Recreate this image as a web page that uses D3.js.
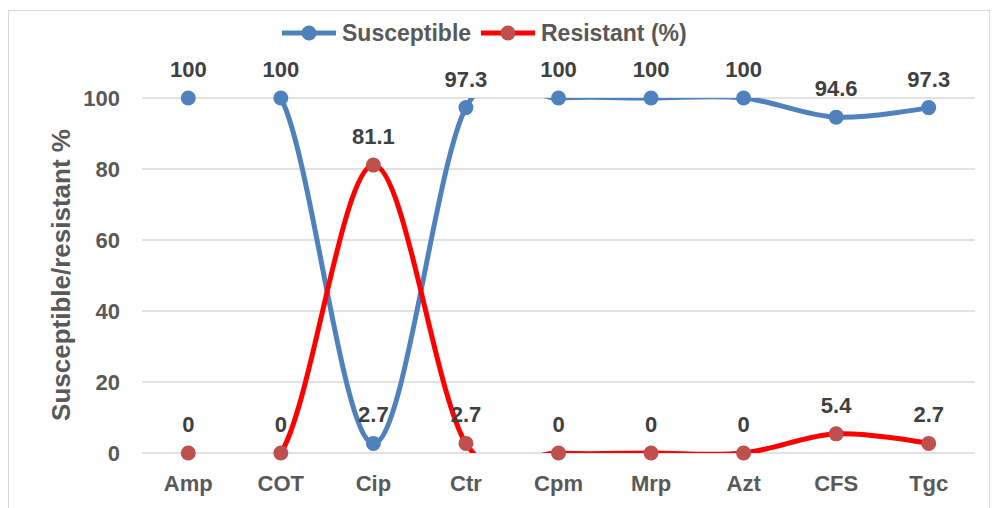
<!DOCTYPE html>
<html>
<head>
<meta charset="utf-8">
<script src="https://cdn.jsdelivr.net/npm/d3@7"></script>
<style>
  body { margin: 0; background: #fff; }
  svg { font-family: Arial, "Liberation Sans", sans-serif; font-weight: bold; }
</style>
</head>
<body>
<svg id="chart" width="993" height="508"></svg>
<script>
// data
var categories = ["Amp", "COT", "Cip", "Ctr", "Cpm", "Mrp", "Azt", "CFS", "Tgc"];
var susceptible = [100, 100, 2.7, 97.3, 100, 100, 100, 94.6, 97.3];
var resistant = [0, 0, 81.1, 2.7, 0, 0, 0, 5.4, 2.7];
var yTicks = [0, 20, 40, 60, 80, 100];

var svg = d3.select("#chart");

var plotLeft = 142, plotRight = 975, plotTop = 98, plotBottom = 453;

// outer frame
svg.append("rect")
   .attr("x", 8.5).attr("y", 10.5)
   .attr("width", 981).attr("height", 500)
   .attr("fill", "none")
   .attr("stroke", "#d9d9d9");

var xScale = d3.scaleBand()
        .domain(categories)
        .range([plotLeft, plotRight]);

var yScale = d3.scaleLinear()
        .domain([0, 100])
        .range([plotBottom, plotTop]);

var cx = function(i) { return xScale(categories[i]) + xScale.bandwidth() / 2; };

// gridlines
svg.append("g")
   .selectAll("line")
   .data(yTicks)
   .enter().append("line")
     .attr("x1", plotLeft).attr("x2", plotRight)
     .attr("y1", function(d) { return yScale(d); })
     .attr("y2", function(d) { return yScale(d); })
     .attr("stroke", "#d9d9d9")
     .attr("stroke-width", 1.3);

// y axis labels
var yAxis = d3.axisLeft(yScale).tickValues(yTicks).tickSize(0).tickPadding(22);
svg.append("g")
   .attr("transform", "translate(" + plotLeft + ",0)")
   .call(yAxis)
   .call(function(g) { g.select(".domain").remove(); })
   .selectAll("text")
   .attr("font-family", "Arial, 'Liberation Sans', sans-serif")
   .attr("font-size", 22)
   .attr("font-weight", "bold")
   .attr("fill", "#595959");

// x axis labels
var xAxis = d3.axisBottom(xScale).tickSize(0).tickPadding(22);
svg.append("g")
   .attr("transform", "translate(0," + plotBottom + ")")
   .call(xAxis)
   .call(function(g) { g.select(".domain").remove(); })
   .selectAll("text")
   .attr("font-family", "Arial, 'Liberation Sans', sans-serif")
   .attr("font-size", 22)
   .attr("font-weight", "bold")
   .attr("fill", "#595959");

// y title
svg.append("text")
   .attr("transform", "translate(70," + 275 + ") rotate(-90)")
   .attr("text-anchor", "middle")
   .attr("font-size", 26)
   .attr("fill", "#595959")
   .text("Susceptible/resistant %");

// clip lines to the plot area, like the spreadsheet does
svg.append("clipPath")
   .attr("id", "plotclip")
   .append("rect")
   .attr("x", plotLeft).attr("y", plotTop)
   .attr("width", plotRight - plotLeft).attr("height", plotBottom - plotTop);

var line = d3.line()
        .x(function(d, i) { return cx(i); })
        .y(function(d) { return yScale(d); })
        .curve(d3.curveCardinal.tension(0));

var series = [
  { name: "Susceptible", values: susceptible, line: "#4f81bd", marker: "#4f81bd" },
  { name: "Resistant (%)", values: resistant, line: "#ff0000", marker: "#c0504d" }
];

series.forEach(function(s) {
  svg.append("path")
     .datum(s.values)
     .attr("clip-path", "url(#plotclip)")
     .attr("d", line)
     .attr("fill", "none")
     .attr("stroke", s.line)
     .attr("stroke-width", 5);
});

series.forEach(function(s) {
  svg.append("g")
     .selectAll("circle")
     .data(s.values)
     .enter().append("circle")
       .attr("cx", function(d, i) { return cx(i); })
       .attr("cy", function(d) { return yScale(d); })
       .attr("r", 7.5)
       .attr("fill", s.marker);
});

// data labels
series.forEach(function(s) {
  svg.append("g")
     .selectAll("text")
     .data(s.values)
     .enter().append("text")
       .attr("x", function(d, i) { return cx(i); })
       .attr("y", function(d) { return yScale(d) - 21; })
       .attr("text-anchor", "middle")
       .attr("font-size", 22)
       .attr("fill", "#404040")
       .text(function(d) { return d; });
});

// legend
var legend = svg.append("g").attr("transform", "translate(282,33)");
var legendX = [0, 199];
series.forEach(function(s, i) {
  var g = legend.append("g").attr("transform", "translate(" + legendX[i] + ",0)");
  g.append("line")
   .attr("x1", 0).attr("x2", 54)
   .attr("y1", 0).attr("y2", 0)
   .attr("stroke", s.line)
   .attr("stroke-width", 5);
  g.append("circle")
   .attr("cx", 27).attr("cy", 0).attr("r", 7.5)
   .attr("fill", s.marker);
  g.append("text")
   .attr("x", 60).attr("y", 8)
   .attr("font-size", 23)
   .attr("fill", "#595959")
   .text(s.name);
});
</script>
</body>
</html>
